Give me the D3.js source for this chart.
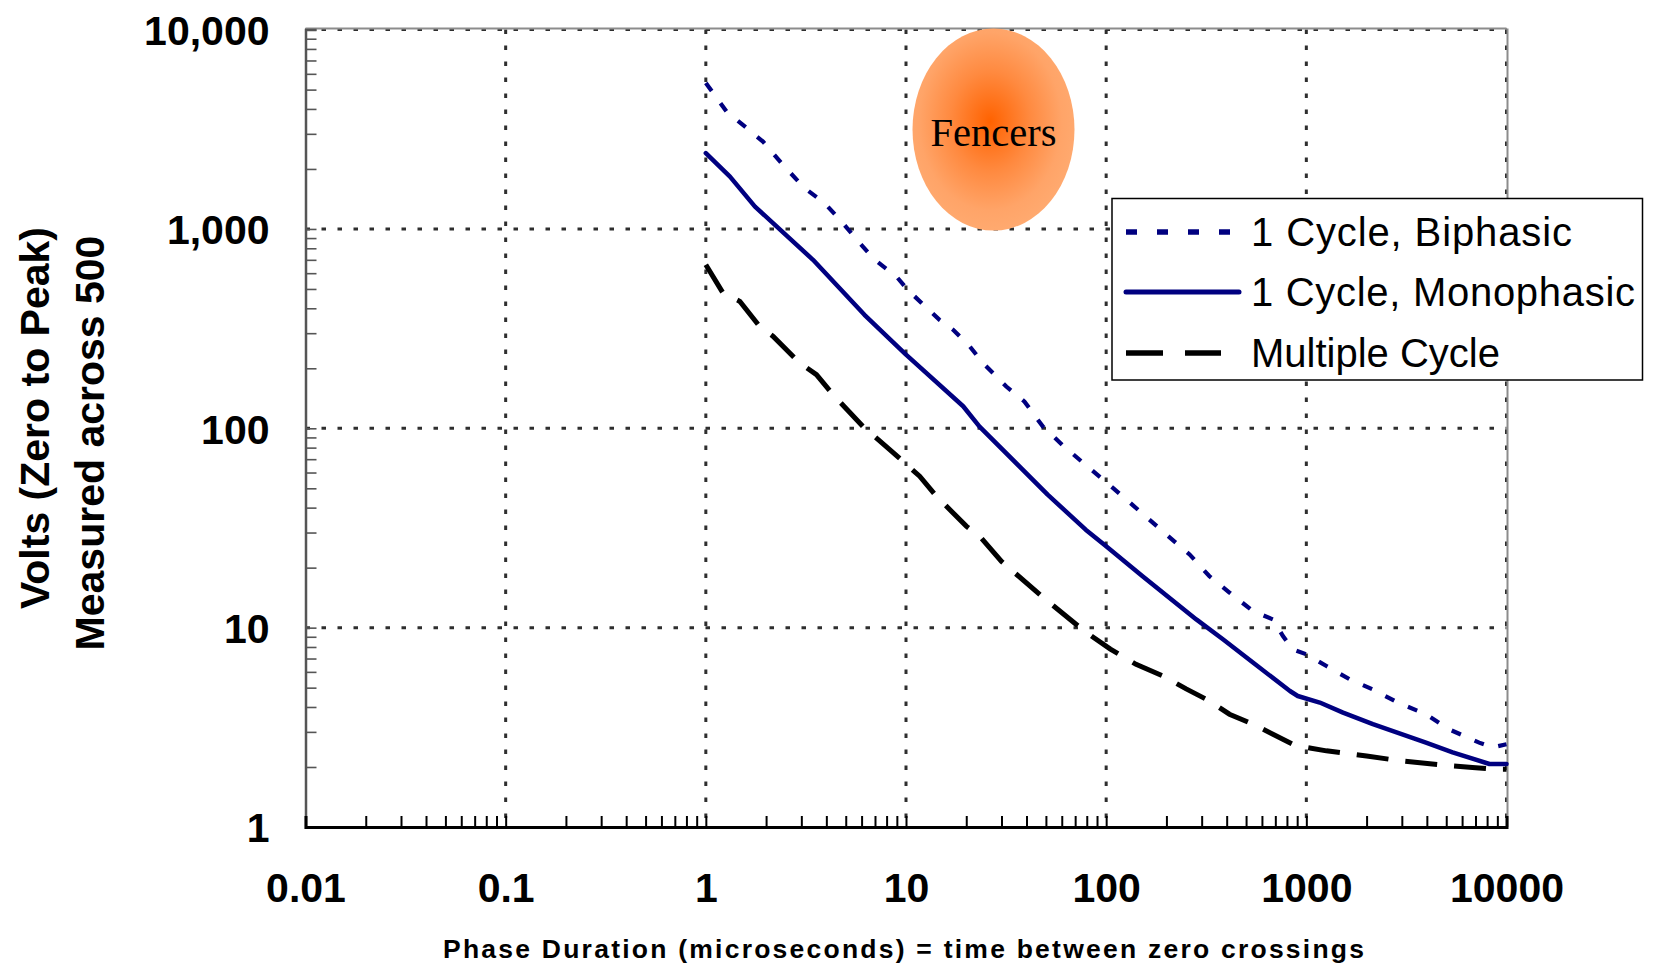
<!DOCTYPE html>
<html>
<head>
<meta charset="utf-8">
<script src="https://cdn.jsdelivr.net/npm/d3@7"></script>
<style>
  html, body { margin: 0; padding: 0; background: #fff; }
  svg { display: block; }
</style>
</head>
<body>
<svg id="chart" width="1654" height="964"></svg>
<script>
// ---------- DATA ----------
const xTickValues = [0.01, 0.1, 1, 10, 100, 1000, 10000];
const xTickLabels = ["0.01", "0.1", "1", "10", "100", "1000", "10000"];
const yTickValues = [1, 10, 100, 1000, 10000];
const yTickLabels = ["1", "10", "100", "1,000", "10,000"];

const seriesNames = ["1 Cycle, Biphasic", "1 Cycle, Monophasic", "Multiple Cycle"];

const biphasicX = [1, 1.27, 1.57, 1.93, 2.43, 3.12, 3.93, 4.84, 5.87, 6.98, 8.96, 10.2, 12.2, 14.7, 17.2, 20.8, 24.2, 31.7, 39.1, 48.3, 60.8, 82.6, 108, 147, 200, 261, 328, 413, 541, 681, 764, 857, 1000, 1260, 1650, 2150, 2860, 3960, 5170, 7300, 8510, 10000];
const biphasicY = [5400, 3875, 3260, 2742, 2094, 1600, 1345, 1069, 849, 700, 577, 495, 417, 350, 312, 258, 213, 162, 136, 102, 82, 63, 50.3, 38.4, 29.3, 23.3, 18.1, 15, 12.1, 11.0, 9.08, 7.78, 7.35, 6.42, 5.5, 4.9, 4.21, 3.68, 3.09, 2.65, 2.51, 2.6];

const monoX = [1, 1.32, 1.76, 3.43, 6.2, 10, 19.3, 23.3, 51, 79, 100, 152, 282, 383, 541, 828, 906, 1167, 1525, 2150, 3960, 5380, 8220, 10000];
const monoY = [2400, 1830, 1295, 700, 371, 234, 129, 102, 46.5, 31, 25.6, 18.1, 11.0, 8.74, 6.68, 4.81, 4.54, 4.21, 3.75, 3.28, 2.65, 2.37, 2.07, 2.07];

const multiX = [1, 1.22, 1.48, 1.86, 2.17, 2.94, 3.57, 4.32, 6.1, 8.29, 11.7, 14.2, 20, 23.3, 30, 48.3, 78, 105, 141, 192, 251, 328, 413, 541, 681, 857, 1000, 1260, 2000, 2920, 5170, 6760, 8510, 10000];
const multiY = [661, 476, 433, 324, 289, 213, 186, 147.6, 102, 78.2, 57.5, 45.6, 32.3, 28.8, 21.5, 14.2, 9.6, 7.8, 6.55, 5.73, 4.93, 4.29, 3.68, 3.28, 2.92, 2.6, 2.51, 2.41, 2.27, 2.15, 2.03, 1.99, 1.95, 1.95];

const annotationText = "Fencers";
const xTitle = "Phase Duration (microseconds) = time between zero crossings";
const yTitle1 = "Volts (Zero to Peak)";
const yTitle2 = "Measured across 500";

// ---------- LAYOUT ----------
const L = 305.5, R = 1506.5, T = 29.6, B = 827;
const svg = d3.select("#chart");
const sans = "'Liberation Sans', Arial, Helvetica, sans-serif";

const x = d3.scaleLog().domain([0.01, 10000]).range([L, R]);
const y = d3.scaleLog().domain([1, 10000]).range([B, T]);

function minorTicks(lo, hi) {
  const out = [];
  for (let e = Math.log10(lo); e < Math.log10(hi); e++) {
    for (let m = 1; m <= 9; m++) out.push(m * Math.pow(10, e));
  }
  out.push(hi);
  return out;
}

const defs = svg.append("defs");
const grad = defs.append("radialGradient").attr("id", "fenceGrad")
  .attr("cx", "48%").attr("cy", "46%").attr("r", "55%");
grad.append("stop").attr("offset", "0%").attr("stop-color", "#FF6200");
grad.append("stop").attr("offset", "45%").attr("stop-color", "#FF8A40");
grad.append("stop").attr("offset", "80%").attr("stop-color", "#FFA468");
grad.append("stop").attr("offset", "100%").attr("stop-color", "#FFAA70");

// ---------- GRID ----------
const grid = svg.append("g");
grid.selectAll("line.vg").data(xTickValues.slice(1)).join("line")
  .attr("x1", d => x(d)).attr("x2", d => x(d))
  .attr("y1", T).attr("y2", B)
  .attr("stroke", "#2e2e2e").attr("stroke-width", 3)
  .attr("stroke-dasharray", "4.5,11.5");
grid.selectAll("line.hg").data(yTickValues.slice(1)).join("line")
  .attr("x1", L).attr("x2", R)
  .attr("y1", d => y(d)).attr("y2", d => y(d))
  .attr("stroke", "#2e2e2e").attr("stroke-width", 3)
  .attr("stroke-dasharray", "4.5,11.5");

svg.append("line").attr("x1", L).attr("x2", R).attr("y1", T - 1).attr("y2", T - 1)
  .attr("stroke", "#8c8c8c").attr("stroke-width", 2);
svg.append("line").attr("x1", R + 1).attr("x2", R + 1).attr("y1", T - 1).attr("y2", B)
  .attr("stroke", "#8c8c8c").attr("stroke-width", 2);

// ---------- SERIES ----------
const line = d3.line().x(d => x(d[0])).y(d => y(d[1])).curve(d3.curveLinear);
const zip = (a, b) => a.map((v, i) => [v, b[i]]);

svg.append("path").datum(zip(multiX, multiY))
  .attr("d", line).attr("fill", "none")
  .attr("stroke", "#000").attr("stroke-width", 5)
  .attr("stroke-dasharray", "32,17");
svg.append("path").datum(zip(monoX, monoY))
  .attr("d", line).attr("fill", "none")
  .attr("stroke", "#000080").attr("stroke-width", 4.5)
  .attr("stroke-linejoin", "round").attr("stroke-linecap", "round");
svg.append("path").datum(zip(biphasicX, biphasicY))
  .attr("d", line).attr("fill", "none")
  .attr("stroke", "#000080").attr("stroke-width", 4.2)
  .attr("stroke-dasharray", "10,15");

// ---------- AXES ----------
const yMinorAxis = d3.axisRight(y).tickValues(minorTicks(1, 10000)).tickSize(11).tickFormat("");
const gy = svg.append("g").attr("transform", `translate(${L},0)`).call(yMinorAxis);
gy.select(".domain").attr("stroke", "#555").attr("stroke-width", 2.5);
gy.selectAll(".tick line").attr("stroke", "#555").attr("stroke-width", 1.6);

const xMinorAxis = d3.axisTop(x).tickValues(minorTicks(0.01, 10000)).tickSize(11).tickFormat("");
const gx = svg.append("g").attr("transform", `translate(0,${B})`).call(xMinorAxis);
gx.select(".domain").attr("stroke", "#000").attr("stroke-width", 3);
gx.selectAll(".tick line").attr("stroke", "#000").attr("stroke-width", 2);

const yLabelAxis = d3.axisLeft(y).tickValues(yTickValues).tickSize(0).tickPadding(36)
  .tickFormat((d, i) => yTickLabels[i]);
const gyl = svg.append("g").attr("transform", `translate(${L},0)`).call(yLabelAxis);
gyl.select(".domain").remove();
gyl.selectAll("text").attr("font-family", sans).attr("font-weight", "bold")
  .attr("font-size", 41).attr("fill", "#000").attr("dy", "0.36em");

const xLabelAxis = d3.axisBottom(x).tickValues(xTickValues).tickSize(0).tickPadding(46)
  .tickFormat((d, i) => xTickLabels[i]);
const gxl = svg.append("g").attr("transform", `translate(0,${B})`).call(xLabelAxis);
gxl.select(".domain").remove();
gxl.selectAll("text").attr("font-family", sans).attr("font-weight", "bold")
  .attr("font-size", 41).attr("fill", "#000");

svg.append("text").attr("x", 903.5).attr("y", 958)
  .attr("text-anchor", "middle").attr("font-family", sans).attr("font-weight", "bold")
  .attr("font-size", 26.5).attr("textLength", 921).attr("lengthAdjust", "spacing")
  .text(xTitle);

svg.append("text").attr("transform", "translate(48.5,418) rotate(-90)")
  .attr("text-anchor", "middle").attr("font-family", sans).attr("font-weight", "bold")
  .attr("font-size", 41).text(yTitle1);
svg.append("text").attr("transform", "translate(104,443) rotate(-90)")
  .attr("text-anchor", "middle").attr("font-family", sans).attr("font-weight", "bold")
  .attr("font-size", 41).text(yTitle2);

// ---------- ANNOTATION ----------
svg.append("ellipse").attr("cx", 993.5).attr("cy", 129.6).attr("rx", 81).attr("ry", 101)
  .attr("fill", "url(#fenceGrad)");
svg.append("text").attr("x", 993.5).attr("y", 146)
  .attr("text-anchor", "middle")
  .attr("font-family", "'Liberation Serif', 'Times New Roman', serif")
  .attr("font-size", 40.5).attr("fill", "#000").text(annotationText);

// ---------- LEGEND ----------
const lg = svg.append("g");
lg.append("rect").attr("x", 1112).attr("y", 198.5).attr("width", 530.5).attr("height", 181.5)
  .attr("fill", "#fff").attr("stroke", "#000").attr("stroke-width", 1.5);
const legendStyles = [
  { color: "#000080", width: 5.5, dash: "11,20", x2: 1232, cap: "butt", len: 321 },
  { color: "#000080", width: 5, dash: null, x2: 1239, cap: "round", len: 384 },
  { color: "#000", width: 5.5, dash: "37,22", x2: 1221, cap: "butt", len: null }
];
const rowY = [232, 292, 353];
seriesNames.forEach((name, i) => {
  const s = legendStyles[i];
  lg.append("line").attr("x1", 1126).attr("x2", s.x2).attr("y1", rowY[i]).attr("y2", rowY[i])
    .attr("stroke", s.color).attr("stroke-width", s.width)
    .attr("stroke-linecap", s.cap)
    .attr("stroke-dasharray", s.dash);
  const t = lg.append("text").attr("x", 1251).attr("y", rowY[i] + 14)
    .attr("font-family", sans).attr("font-size", 40).attr("fill", "#000")
    .text(name);
  if (s.len) t.attr("textLength", s.len).attr("lengthAdjust", "spacing");
});
</script>
</body>
</html>
